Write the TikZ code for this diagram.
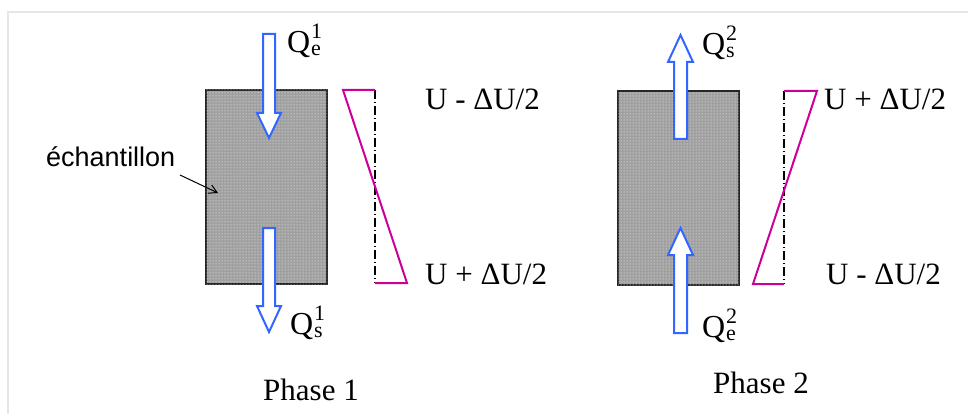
\documentclass[tikz,border=0pt]{standalone}
\usepackage{fontspec}
\setmainfont{Liberation Serif}
\newfontfamily\arialfont{Liberation Sans}
\usetikzlibrary{arrows.meta,patterns}
\definecolor{flowblue}{RGB}{51,102,255}
\definecolor{gradmag}{RGB}{204,0,153}
\definecolor{framegray}{RGB}{230,230,230}
\definecolor{samplegray}{RGB}{160,160,160}
\tikzset{
  sample/.style={draw=black!85, line width=1.5pt, fill=samplegray,
    postaction={pattern=dots, pattern color=white}},
  flow/.style={draw=flowblue, line width=2pt, fill=white, line join=miter},
  grad/.style={draw=gradmag, line width=2pt},
  midaxis/.style={black, line width=1.3pt, dash pattern=on 9pt off 3pt on 1pt off 3pt},
  lbl/.style={font=\fontsize{31}{36}\selectfont, inner sep=0pt, anchor=base west},
  qlbl/.style={font=\fontsize{32}{36}\selectfont, inner sep=0pt, anchor=base west},
  idx/.style={font=\fontsize{22}{24}\selectfont, inner sep=0pt, anchor=base west},
  sanslbl/.style={font=\arialfont\fontsize{27}{32}\selectfont, inner sep=0pt, anchor=base west},
  pointer/.style={black, line width=1pt, -{Straight Barb[length=8pt,width=9pt]}},
}
\begin{document}
\begin{tikzpicture}[x=1pt,y=-1pt]
\useasboundingbox (0,0) rectangle (968,414);
\fill[white] (0,0) rectangle (968,414);
\draw[framegray, line width=2pt] (8,414) -- (8,12) -- (968,12);

% samples
\path[sample] (206,90) rectangle (327,284);
\path[sample] (618,91) rectangle (739,285);
\coordinate (s1) at (218,193);

% phase 1 flows
\path[flow] (263,34) -- (275,34) -- (275,113) -- (281,113) -- (269,138) -- (257,113) -- (263,113) -- cycle;
\path[flow] (263,228) -- (275,228) -- (275,306) -- (281,306) -- (269,332) -- (257,306) -- (263,306) -- cycle;
% phase 2 flows
\path[flow] (674,139) -- (687,139) -- (687,62) -- (693,62) -- (680.5,35) -- (668,62) -- (674,62) -- cycle;
\path[flow] (674,333) -- (687,333) -- (687,255) -- (693,255) -- (680.5,228) -- (668,255) -- (674,255) -- cycle;

% gradients
\draw[midaxis] (375,90) -- (375,283);
\draw[grad] (375,90) -- (343,90) -- (407,283) -- (375,283);
\draw[midaxis] (784,91) -- (784,284);
\draw[grad] (784,91) -- (817,91) -- (753,284) -- (784,284);

% flow labels
\node[qlbl] (q1e) at (287,53) {Q};
\node[idx] (q1e-sup) at (311,39) {1};
\node[idx] (q1e-sub) at (311,56) {e};
\node[qlbl] (q1s) at (290,334) {Q};
\node[idx] (q1s-sup) at (314,320) {1};
\node[idx] (q1s-sub) at (314,337) {s};
\node[qlbl] (q2s) at (702,55) {Q};
\node[idx] (q2s-sup) at (726,41) {2};
\node[idx] (q2s-sub) at (726,58) {s};
\node[qlbl] (q2e) at (702,337) {Q};
\node[idx] (q2e-sup) at (726,323) {2};
\node[idx] (q2e-sub) at (726,340) {e};

% potential labels
\node[lbl] (u1t) at (425,110) {U - ΔU/2};
\node[lbl] (u1b) at (425,284) {U + ΔU/2};
\node[lbl] (u2t) at (824,110) {U + ΔU/2};
\node[lbl] (u2b) at (826,284) {U - ΔU/2};

\node[lbl] (ph1) at (263,400) {Phase 1};
\node[lbl] (ph2) at (713,393) {Phase 2};

\node[sanslbl] (ech) at (46,167) {échantillon};
\coordinate (e0) at (180,175);
\draw[pointer] (e0) -- (s1);
\end{tikzpicture}
\end{document}
